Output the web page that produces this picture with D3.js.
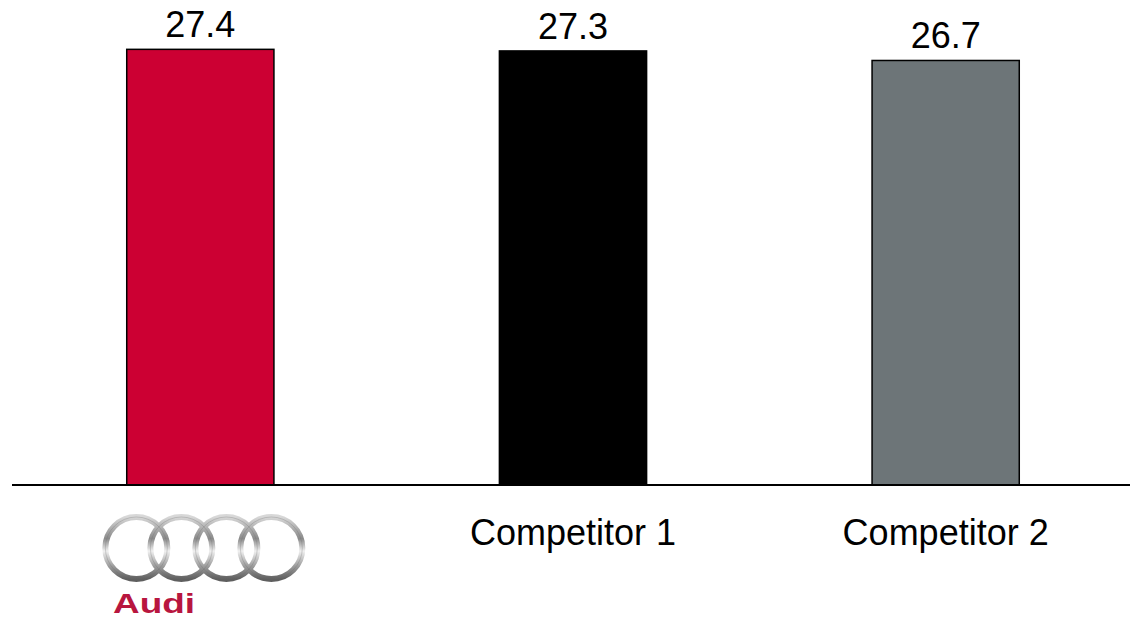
<!DOCTYPE html>
<html lang="en">
<head>
<meta charset="UTF-8">
<title>Audi vs competitors</title>
<script src="https://d3js.org/d3.v7.min.js"></script>
<style>
  html, body { margin: 0; padding: 0; background: #fff; }
  svg { display: block; font-family: "Liberation Sans", Arial, sans-serif; }
</style>
</head>
<body>
<svg width="1130" height="618"></svg>
<script>
// data
const categories = ["Audi", "Competitor 1", "Competitor 2"];
const values = [27.4, 27.3, 26.7];
const barColors = ["#cc0033", "#000000", "#6d7578"];
const valueLabels = ["27.4", "27.3", "26.7"];
const logoRings = [0, 1, 2, 3];

const svg = d3.select("svg");

// scales
const x = d3.scaleBand()
  .domain(categories)
  .range([14, 1132])
  .paddingInner(0.605)
  .paddingOuter(0.3025);

const y = d3.scaleLinear()
  .domain([0, 30])
  .range([485, 8]);

// bars
svg.selectAll("rect.bar")
  .data(values)
  .join("rect")
  .attr("class", "bar")
  .attr("x", (d, i) => x(categories[i]))
  .attr("y", d => y(d))
  .attr("width", x.bandwidth())
  .attr("height", d => y(0) - y(d))
  .attr("fill", (d, i) => barColors[i])
  .attr("stroke", "#000")
  .attr("stroke-width", 1.5);

// value labels
svg.selectAll("text.val")
  .data(values)
  .join("text")
  .attr("class", "val")
  .attr("x", (d, i) => x(categories[i]) + x.bandwidth() / 2)
  .attr("y", d => y(d) - 12)
  .attr("text-anchor", "middle")
  .attr("font-size", 36)
  .attr("fill", "#000")
  .text((d, i) => valueLabels[i]);

// baseline
svg.append("line")
  .attr("x1", 12).attr("x2", 1130)
  .attr("y1", y(0)).attr("y2", y(0))
  .attr("stroke", "#000")
  .attr("stroke-width", 2);

// category labels (Audi gets a logo instead)
svg.selectAll("text.cat")
  .data(categories.slice(1))
  .join("text")
  .attr("class", "cat")
  .attr("x", d => x(d) + x.bandwidth() / 2)
  .attr("y", 545)
  .attr("text-anchor", "middle")
  .attr("font-size", 36)
  .attr("fill", "#000")
  .text(d => d);

// Audi logo
const defs = svg.append("defs");
const grad = defs.append("linearGradient")
  .attr("id", "chrome")
  .attr("x1", 0).attr("y1", 0).attr("x2", 0).attr("y2", 1);
grad.append("stop").attr("offset", "0%").attr("stop-color", "#d8d8d8");
grad.append("stop").attr("offset", "35%").attr("stop-color", "#8a8a8a");
grad.append("stop").attr("offset", "55%").attr("stop-color", "#f0f0f0");
grad.append("stop").attr("offset", "80%").attr("stop-color", "#9a9a9a");
grad.append("stop").attr("offset", "100%").attr("stop-color", "#5f5f5f");

const logo = svg.append("g")
  .attr("transform", `translate(${x("Audi") + x.bandwidth() / 2 - 64}, 548)`);

logo.selectAll("circle.ring")
  .data(logoRings)
  .join("circle")
  .attr("class", "ring")
  .attr("cx", d => d * 45)
  .attr("cy", 0)
  .attr("r", 31)
  .attr("fill", "none")
  .attr("stroke", "url(#chrome)")
  .attr("stroke-width", 6);

logo.selectAll("circle.edge")
  .data(logoRings)
  .join("circle")
  .attr("class", "edge")
  .attr("cx", d => d * 45)
  .attr("cy", 0)
  .attr("r", 31)
  .attr("fill", "none")
  .attr("stroke", "#6a6a6a")
  .attr("stroke-opacity", 0.35)
  .attr("stroke-width", 0.8);

svg.append("text")
  .attr("x", 113)
  .attr("y", 613)
  .attr("font-size", 28)
  .attr("font-weight", "bold")
  .attr("fill", "#b8163f")
  .attr("textLength", 82)
  .attr("lengthAdjust", "spacingAndGlyphs")
  .text("Audi");
</script>
</body>
</html>
